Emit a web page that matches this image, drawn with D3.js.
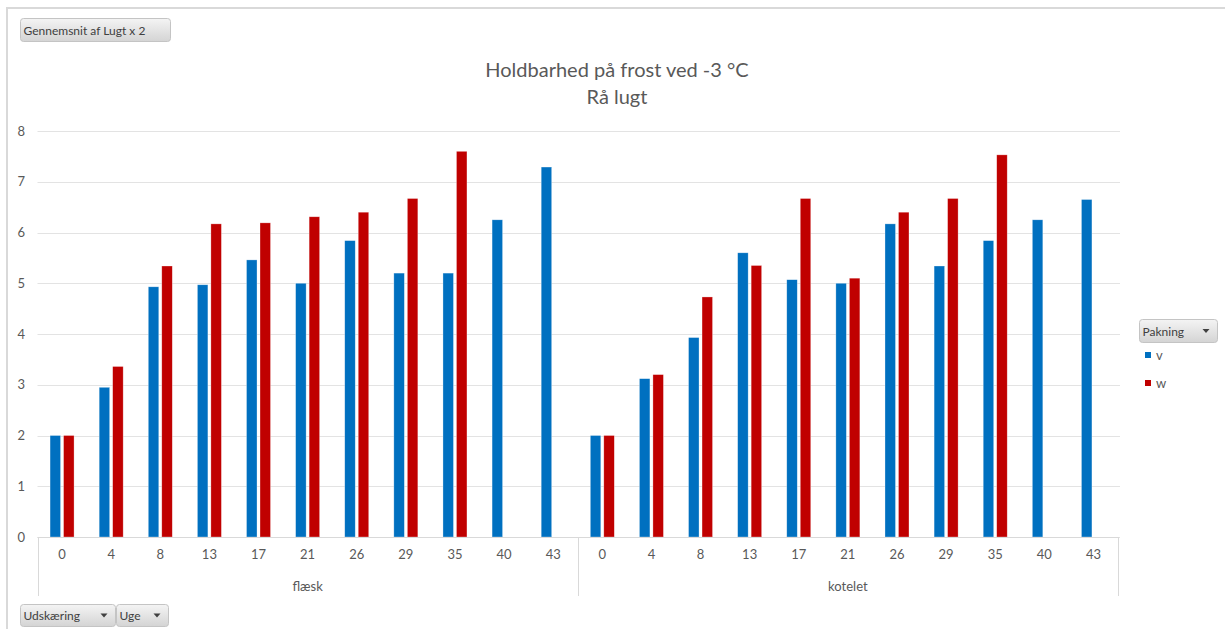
<!DOCTYPE html>
<html>
<head>
<meta charset="utf-8">
<script src="https://cdn.jsdelivr.net/npm/d3@7"></script>
<style>
body { margin: 0; background: #fff; }
text { font-family: Lato, "Open Sans", sans-serif; }
</style>
</head>
<body>
<div id="chart"></div>
<script>
var weeks = [0, 4, 8, 13, 17, 21, 26, 29, 35, 40, 43];
var cuts = ["flæsk", "kotelet"];
var series = ["v", "w"];
var flaeskV = [2.0, 2.95, 4.93, 4.97, 5.46, 5.0, 5.84, 5.2, 5.2, 6.25, 7.29];
var flaeskW = [2.0, 3.36, 5.34, 6.17, 6.19, 6.31, 6.4, 6.67, 7.6, null, null];
var koteletV = [2.0, 3.12, 3.93, 5.6, 5.07, 5.0, 6.17, 5.34, 5.84, 6.25, 6.65];
var koteletW = [2.0, 3.2, 4.73, 5.35, 6.67, 5.1, 6.4, 6.67, 7.53, null, null];
var yTicks = [0, 1, 2, 3, 4, 5, 6, 7, 8];
var colors = { v: "#0070C0", w: "#C00000" };

var rows = [];
cuts.forEach(function (c, ci) {
    var vv = ci == 0 ? flaeskV : koteletV;
    var ww = ci == 0 ? flaeskW : koteletW;
    weeks.forEach(function (wk, i) {
        rows.push({ key: c + "|" + wk, cut: c, week: wk, v: vv[i], w: ww[i] });
    });
});

var svg = d3.select("#chart").append("svg")
    .attr("width", 1225)
    .attr("height", 629);

// outer frame
svg.append("path")
    .attr("d", "M7,629 V8 H1225")
    .attr("fill", "none")
    .attr("stroke", "#d9d9d9")
    .attr("stroke-width", 2);

var xScale = d3.scaleBand()
    .domain(rows.map(r => r.key))
    .range([37.5, 1118]);

var yScale = d3.scaleLinear()
    .domain([0, 8])
    .range([537, 131]);

var barW = 10.5, gap = 3;

// gridlines
svg.append("g")
    .selectAll("line")
    .data(yTicks).enter().append("line")
    .attr("x1", 37.5).attr("x2", 1120)
    .attr("y1", d => Math.round(yScale(d)) + 0.5)
    .attr("y2", d => Math.round(yScale(d)) + 0.5)
    .attr("stroke", "#e3e3e3")
    .attr("stroke-width", 1.2);

// y axis labels
var yAxis = d3.axisLeft(yScale).tickValues(yTicks).tickSize(0).tickPadding(0);
var yg = svg.append("g")
    .attr("transform", "translate(" + 25 + "," + 0 + ")")
    .call(yAxis);
yg.select(".domain").remove();
yg.selectAll("text")
    .attr("fill", "#595959")
    .style("font-size", "13px");

// bars
var groups = svg.append("g").selectAll("g")
    .data(rows).enter().append("g")
    .attr("transform", r => "translate(" + (xScale(r.key) + xScale.bandwidth() / 2) + ",0)");

series.forEach(function (s, si) {
    groups.filter(r => r[s] != null)
        .append("rect")
        .attr("x", si == 0 ? -barW - gap / 2 : gap / 2)
        .attr("width", barW)
        .attr("y", r => yScale(r[s]))
        .attr("height", r => yScale(0) - yScale(r[s]))
        .attr("fill", colors[s])
        .attr("stroke", "#ffffff")
        .attr("stroke-opacity", 0.5)
        .attr("stroke-width", 0.6);
});

// x axis: week labels
var xAxis = d3.axisBottom(xScale)
    .tickSize(0)
    .tickPadding(13)
    .tickFormat(k => k.split("|")[1]);
var xg = svg.append("g")
    .attr("transform", "translate(" + 0 + "," + 537 + ")")
    .call(xAxis);
xg.select(".domain").remove();
xg.selectAll("text")
    .attr("fill", "#595959")
    .style("font-size", "13px");

svg.append("line")
    .attr("x1", 37.5).attr("x2", 1118)
    .attr("y1", 537.5).attr("y2", 537.5)
    .attr("stroke", "#d9d9d9");

// group separators
var sepX = [xScale(cuts[0] + "|0"), xScale(cuts[1] + "|0"), xScale.range()[1]];
svg.append("g").selectAll("line")
    .data(sepX).enter().append("line")
    .attr("x1", d => Math.round(d) + 0.5).attr("x2", d => Math.round(d) + 0.5)
    .attr("y1", 537).attr("y2", 596)
    .attr("stroke", "#d9d9d9");

// cut labels
svg.append("g").selectAll("text")
    .data(cuts).enter().append("text")
    .attr("x", c => (xScale(c + "|0") + xScale(c + "|43") + xScale.bandwidth()) / 2)
    .attr("y", 591)
    .attr("text-anchor", "middle")
    .attr("fill", "#595959")
    .style("font-size", "13px")
    .text(c => c);

// title
svg.append("text")
    .attr("x", 617).attr("y", 77)
    .attr("text-anchor", "middle")
    .attr("fill", "#595959")
    .style("font-size", "20px")
    .text("Holdbarhed på frost ved -3 °C");
svg.append("text")
    .attr("x", 617).attr("y", 104)
    .attr("text-anchor", "middle")
    .attr("fill", "#595959")
    .style("font-size", "20px")
    .text("Rå lugt");

// field buttons
var defs = svg.append("defs");
var grad = defs.append("linearGradient")
    .attr("id", "btn").attr("x1", 0).attr("y1", 0).attr("x2", 0).attr("y2", 1);
grad.append("stop").attr("offset", "0%").attr("stop-color", "#f4f4f4");
grad.append("stop").attr("offset", "100%").attr("stop-color", "#d4d4d4");

function button(x, y, w, h, label, arrow) {
    var b = svg.append("g").attr("transform", "translate(" + x + "," + y + ")");
    b.append("rect")
        .attr("width", w).attr("height", h)
        .attr("rx", 3)
        .attr("fill", "url(#btn)")
        .attr("stroke", "#c4c4c4");
    b.append("text")
        .attr("x", 3).attr("y", h / 2 + 4.5)
        .attr("fill", "#404040")
        .style("font-size", "12px")
        .text(label);
    if (arrow) {
        b.append("path")
            .attr("d", "M" + (w - 15) + "," + (h / 2 - 2) + " h7 l-3.5,4 z")
            .attr("fill", "#404040");
    }
}

button(20.5, 18.5, 150, 23, "Gennemsnit af Lugt x 2", false);
button(20.5, 604.5, 95, 22, "Udskæring", true);
button(116.5, 604.5, 52, 22, "Uge", true);
button(1139.5, 319.5, 78, 23, "Pakning", true);

// legend
var legend = svg.append("g").selectAll("g")
    .data(series).enter().append("g")
    .attr("transform", (s, i) => "translate(" + 1145 + "," + (352 + i * 28) + ")");
legend.append("rect")
    .attr("width", 6).attr("height", 6)
    .attr("fill", s => colors[s]);
legend.append("text")
    .attr("x", 11).attr("y", 8)
    .attr("fill", "#595959")
    .style("font-size", "13px")
    .text(s => s);
</script>
</body>
</html>
